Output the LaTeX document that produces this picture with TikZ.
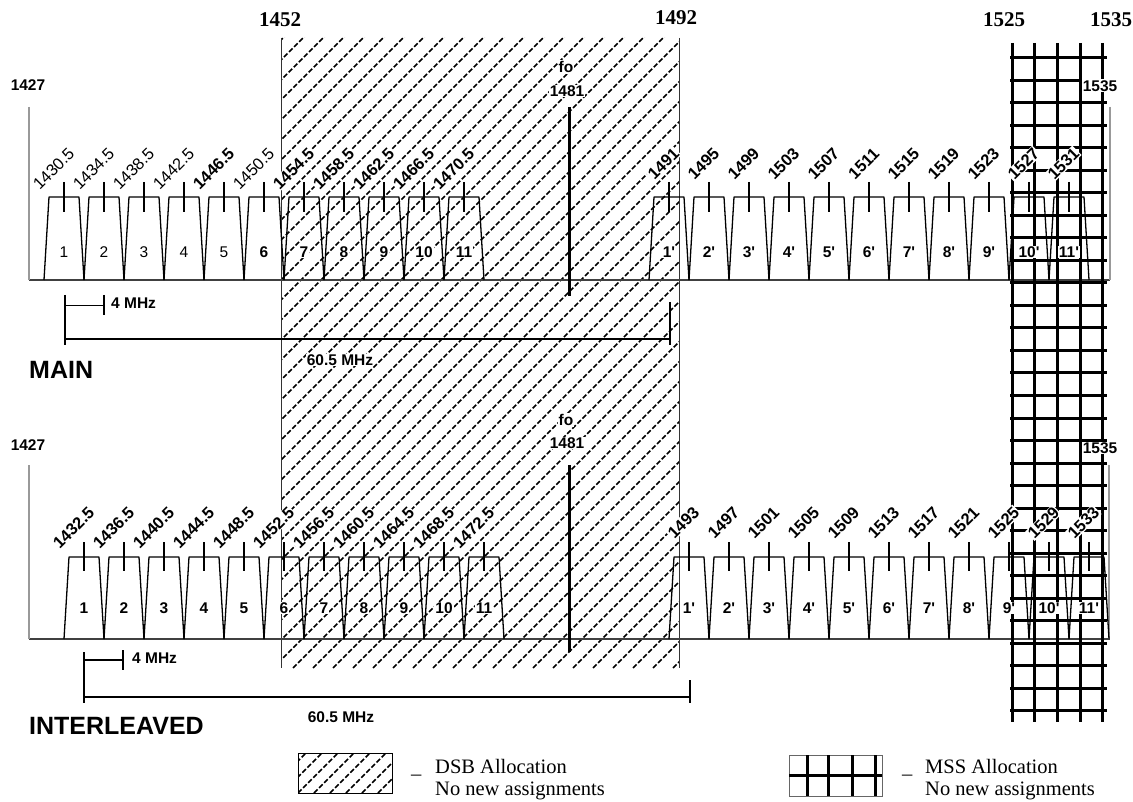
\documentclass[tikz,border=0pt]{standalone}
\usepackage{fontspec}
\setmainfont{Liberation Serif}
\newfontfamily\arial{Liberation Sans}
\begin{document}
\begin{tikzpicture}[x=1pt,y=-1pt,
  chan/.style={draw=black, line width=1.3pt, line join=round},
  tickmark/.style={line width=2pt},
  baseln/.style={draw=black!75, line width=1.4pt},
  grayln/.style={draw=black!40, line width=1.2pt},
  hatchline/.style={line width=1.6pt, dash pattern=on 5pt off 2.2pt},
  gridline/.style={line width=3pt},
  flabr/.style={rotate=45, anchor=south east, inner sep=0.8pt, fill=white, font=\arial\fontsize{16.5}{18}\selectfont},
  flabb/.style={flabr, font=\arial\bfseries\fontsize{16.5}{18}\selectfont},
  numr/.style={inner sep=1pt, fill=white, font=\arial\fontsize{15.5}{17}\selectfont},
  numb/.style={numr, font=\arial\bfseries\fontsize{15.5}{17}\selectfont},
  blab/.style={inner sep=1pt, font=\arial\bfseries\fontsize{15.5}{17}\selectfont},
  toplab/.style={inner sep=1pt, font=\bfseries\fontsize{21}{23}\selectfont},
  biglab/.style={anchor=west, inner sep=0pt, font=\arial\bfseries\fontsize{25}{27}\selectfont},
  legtext/.style={anchor=base west, inner sep=0pt, font=\fontsize{20.5}{22}\selectfont}
]
\useasboundingbox (0,0) rectangle (1133,802);

% ---------------- DSB hatch band ----------------
\begin{scope}
  \clip (281,38) rectangle (679,668);
  \foreach \i in {-367,-347,...,693} \draw[hatchline] (\i,668) -- ++(640,-640);
\end{scope}
\draw[line width=0.8pt, draw=black!80] (281,38) -- (281,668);
\draw[line width=0.8pt, draw=black!80] (679,38) -- (679,668);

% ---------------- baselines and band edges ----------------
\draw[baseln] (29,280) -- (1110,280);
\draw[baseln] (29,639) -- (1110,639);
\draw[grayln] (29,107) -- (29,280);
\draw[grayln] (1110,107) -- (1110,280);
\draw[grayln] (29,465) -- (29,639);
\draw[grayln] (1109,465) -- (1109,639);

% ---------------- MAIN channels ----------------
\foreach \c in {64,104,...,464,669,709,...,1069} {
  \draw[chan] (\c-20,280) -- (\c-15,197) -- (\c+15,197) -- (\c+20,280);
  \draw[tickmark] (\c,182) -- (\c,212);
}
% ---------------- INTERLEAVED channels ----------------
\foreach \c in {84,124,...,484,689,729,...,1089} {
  \draw[chan] (\c-20,639) -- (\c-15,557) -- (\c+15,557) -- (\c+20,639);
  \draw[tickmark] (\c,542) -- (\c,571);
}

% ---------------- MSS grid ----------------
\foreach \x in {1012,1034,1057,1080,1102} \draw[gridline] (\x,43) -- (\x,722);
\foreach \k in {0,...,29} \draw[gridline] (1010,{58+22.5*\k}) -- (1107,{58+22.5*\k});

% ---------------- fo lines ----------------
\draw[line width=3pt] (569,107) -- (569,296);
\draw[line width=3pt] (569,465) -- (569,652);
\node[blab, fill=white] (fo1) at (566,67) {fo};
\node[blab, fill=white] (f1481a) at (567,91) {1481};
\node[blab, fill=white] (fo2) at (566,420) {fo};
\node[blab, fill=white] (f1481b) at (567,443) {1481};

% ---------------- MAIN labels ----------------
\foreach \c/\f/\n/\fs/\ns [count=\k] in {
  64/1430.5/1/r/r, 104/1434.5/2/r/r, 144/1438.5/3/r/r, 184/1442.5/4/r/r,
  224/1446.5/5/b/r, 264/1450.5/6/r/b, 304/1454.5/7/b/b, 344/1458.5/8/b/b,
  384/1462.5/9/b/b, 424/1466.5/10/b/b, 464/1470.5/11/b/b,
  669/1491/1'/b/b, 709/1495/2'/b/b, 749/1499/3'/b/b, 789/1503/4'/b/b,
  829/1507/5'/b/b, 869/1511/6'/b/b, 909/1515/7'/b/b, 949/1519/8'/b/b,
  989/1523/9'/b/b, 1029/1527/10'/b/b, 1069/1531/11'/b/b} {
  \node[flab\fs] (mf\k) at (\c+13,155) {\f};
  \node[num\ns] (mn\k) at (\c,252) {\n};
}
% ---------------- INTERLEAVED labels ----------------
\foreach \c/\f/\n [count=\k] in {
  84/1432.5/1, 124/1436.5/2, 164/1440.5/3, 204/1444.5/4, 244/1448.5/5,
  284/1452.5/6, 324/1456.5/7, 364/1460.5/8, 404/1464.5/9, 444/1468.5/10,
  484/1472.5/11,
  689/1493/1', 729/1497/2', 769/1501/3', 809/1505/4', 849/1509/5',
  889/1513/6', 929/1517/7', 969/1521/8', 1009/1525/9', 1049/1529/10',
  1089/1533/11'} {
  \node[flabb] (if\k) at (\c+13,514) {\f};
  \node[numb] (in\k) at (\c,608) {\n};
}

% ---------------- edge labels ----------------
\node[blab] (l1427a) at (28,85) {1427};
\node[blab, fill=white] (l1535a) at (1100,86) {1535};
\node[blab] (l1427b) at (28,445) {1427};
\node[blab, fill=white] (l1535b) at (1100,448) {1535};
\node[toplab] (t1452) at (280,20) {1452};
\node[toplab] (t1492) at (676,18) {1492};
\node[toplab] (t1525) at (1004,20) {1525};
\node[toplab] (t1535) at (1111,20) {1535};

% ---------------- MAIN dimensions ----------------
\coordinate (ma) at (65,306);
\coordinate (mb) at (104,306);
\coordinate (mc) at (65,339);
\coordinate (md) at (670,339);
\draw[line width=1.6pt] (65,295) -- (65,345);
\draw[line width=1.6pt] (104,295) -- (104,315);
\draw[line width=1pt] (ma) -- (mb);
\draw[line width=2.4pt] (mc) -- (md);
\draw[line width=1.6pt] (670,302) -- (670,345);
\node[blab, anchor=west] (m4) at (110,303) {4 MHz};
\node[blab, fill=white] (m60) at (340,360) {60.5 MHz};
\node[biglab] (main) at (29,370) {MAIN};

% ---------------- INTERLEAVED dimensions ----------------
\coordinate (ia) at (84,660);
\coordinate (ib) at (123,660);
\coordinate (ic) at (84,697);
\coordinate (id) at (690,697);
\draw[line width=1.6pt] (84,652) -- (84,703);
\draw[line width=1.6pt] (123,650) -- (123,670);
\draw[line width=2pt] (ia) -- (ib);
\draw[line width=2.4pt] (ic) -- (id);
\draw[line width=1.6pt] (690,680) -- (690,703);
\node[blab, anchor=west] (i4) at (131,658) {4 MHz};
\node[blab] (i60) at (341,717) {60.5 MHz};
\node[biglab] (inter) at (29,726) {INTERLEAVED};

% ---------------- legend ----------------
\begin{scope}
  \clip (298,753) rectangle (392,793);
  \foreach \i in {250,266,...,400} \draw[hatchline] (\i,793) -- ++(60,-60);
\end{scope}
\draw[line width=1pt] (298,753) rectangle (392,793);
\node[legtext] (dsbU) at (411,773) {\_};
\node[legtext] (dsb1) at (435,773) {DSB Allocation};
\node[legtext] (dsb2) at (435,795) {No new assignments};

\draw[line width=1pt, draw=black!60] (789,755) rectangle (882,796);
\draw[gridline] (789,775) -- (882,775);
\foreach \x in {807,828,852,875} \draw[gridline] (\x,755) -- (\x,796);
\node[legtext] (mssU) at (902,773) {\_};
\node[legtext] (mss1) at (925,773) {MSS Allocation};
\node[legtext] (mss2) at (925,795) {No new assignments};
\end{tikzpicture}
\end{document}
